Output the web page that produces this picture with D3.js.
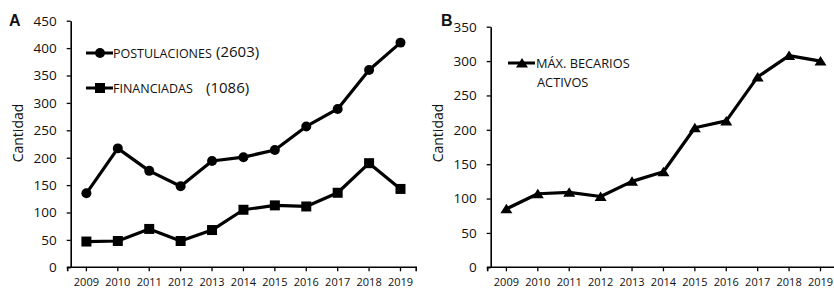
<!DOCTYPE html>
<html>
<head>
<meta charset="utf-8">
<script src="https://cdn.jsdelivr.net/npm/d3@7"></script>
<style>
  body { margin: 0; background: #fff; }
  svg { display: block; }
  svg text { font-family: "Open Sans", sans-serif; fill: #111; }
</style>
</head>
<body>
<svg id="chart" width="834" height="289"></svg>
<script>
// data
const years = ["2009", "2010", "2011", "2012", "2013", "2014", "2015", "2016", "2017", "2018", "2019"];
const postulaciones = [135, 217, 176, 148, 194, 201, 214, 257, 289, 360, 410];
const financiadas = [47, 48, 70, 48, 68, 105, 113, 111, 136, 190, 143];
const becarios = [85, 107, 109, 103, 125, 139, 203, 213, 277, 308, 300];
const ticksA = [0, 50, 100, 150, 200, 250, 300, 350, 400, 450];
const ticksB = [0, 50, 100, 150, 200, 250, 300, 350];

const svg = d3.select("#chart");
const bottom = 267.3;

function panel(opts) {
  const g = svg.append("g");
  const x = d3.scaleBand().domain(years).range([opts.left, opts.left + 345.5]);
  const y = d3.scaleLinear().domain([0, opts.max]).range([bottom, opts.top]);

  // y axis
  const ya = g.append("g")
    .attr("transform", `translate(${opts.left},0)`)
    .call(d3.axisLeft(y).tickValues(opts.ticks).tickSize(4).tickSizeOuter(0));
  ya.attr("font-family", null);
  ya.select(".domain").attr("stroke", "#000").attr("stroke-width", 1.6);
  ya.selectAll(".tick line").attr("stroke-width", 1.3);
  ya.selectAll("text")
    .attr("x", -14)
    .style("font-size", "13.5px");

  // x axis
  const xa = g.append("g")
    .attr("transform", `translate(0,${bottom})`)
    .call(d3.axisBottom(x).tickSize(4).tickSizeOuter(4));
  xa.attr("font-family", null);
  xa.select(".domain").attr("stroke", "#000").attr("stroke-width", 1.6)
    .attr("d", `M${opts.left - 3},4V0H${opts.left + 345.5}V4`);
  xa.selectAll(".tick line").attr("stroke-width", 1.3);
  xa.selectAll("text")
    .attr("y", 19)
    .attr("dy", null)
    .style("font-size", "11px");

  // y title
  g.append("text")
    .attr("transform", `translate(${opts.left - 48},133) rotate(-90)`)
    .attr("text-anchor", "middle")
    .style("font-size", "14px")
    .text("Cantidad");

  // panel letter
  g.append("text")
    .attr("x", opts.letterX)
    .attr("y", opts.letterY)
    .style("font-family", "'Liberation Sans', Arial, sans-serif")
    .attr("font-weight", "bold")
    .style("font-size", "16px")
    .text(opts.letter);

  return { g, x, y };
}

function drawSeries(p, values, marker) {
  const line = d3.line()
    .x((d, i) => p.x(years[i]) + p.x.bandwidth() / 2)
    .y(d => p.y(d));
  p.g.append("path")
    .datum(values)
    .attr("d", line)
    .attr("fill", "none")
    .attr("stroke", "#000")
    .attr("stroke-width", 3.2)
    .attr("stroke-linejoin", "round");
  p.g.selectAll(null)
    .data(values)
    .join("path")
    .attr("transform", (d, i) => `translate(${p.x(years[i]) + p.x.bandwidth() / 2},${p.y(d)})`)
    .attr("d", marker)
    .attr("fill", "#000");
}

function legendItem(g, x0, y0, marker) {
  g.append("line")
    .attr("x1", x0).attr("x2", x0 + 27)
    .attr("y1", y0).attr("y2", y0)
    .attr("stroke", "#000").attr("stroke-width", 3);
  g.append("path")
    .attr("transform", `translate(${x0 + 14},${y0})`)
    .attr("d", marker)
    .attr("fill", "#000");
}

const circle = d3.symbol(d3.symbolCircle, 78)();
const square = d3.symbol(d3.symbolSquare, 100)();
const triangle = "M0,-5L6,4.5L-6,4.5Z";

// panel A
const pA = panel({ left: 70.7, top: 20.7, max: 450, ticks: ticksA, letter: "A", letterX: 9, letterY: 26 });
drawSeries(pA, postulaciones, circle);
drawSeries(pA, financiadas, square);

legendItem(pA.g, 86, 53, circle);
pA.g.append("text").attr("x", 113).attr("y", 57.5).style("font-size", "12.5px")
  .text("POSTULACIONES");
pA.g.append("text").attr("x", 216).attr("y", 57).style("font-size", "15px")
  .text("(2603)");
legendItem(pA.g, 86, 88, square);
pA.g.append("text").attr("x", 113).attr("y", 93).style("font-size", "12.5px")
  .text("FINANCIADAS");
pA.g.append("text").attr("x", 206).attr("y", 93).style("font-size", "15px")
  .text("(1086)");

// panel B
const pB = panel({ left: 490.7, top: 26.7, max: 350, ticks: ticksB, letter: "B", letterX: 441, letterY: 26 });
drawSeries(pB, becarios, triangle);

legendItem(pB.g, 508, 63, triangle);
pB.g.append("text").attr("x", 536).attr("y", 68).style("font-size", "12.8px")
  .text("MÁX. BECARIOS");
pB.g.append("text").attr("x", 537).attr("y", 86.5).style("font-size", "12.8px")
  .text("ACTIVOS");
</script>
</body>
</html>
